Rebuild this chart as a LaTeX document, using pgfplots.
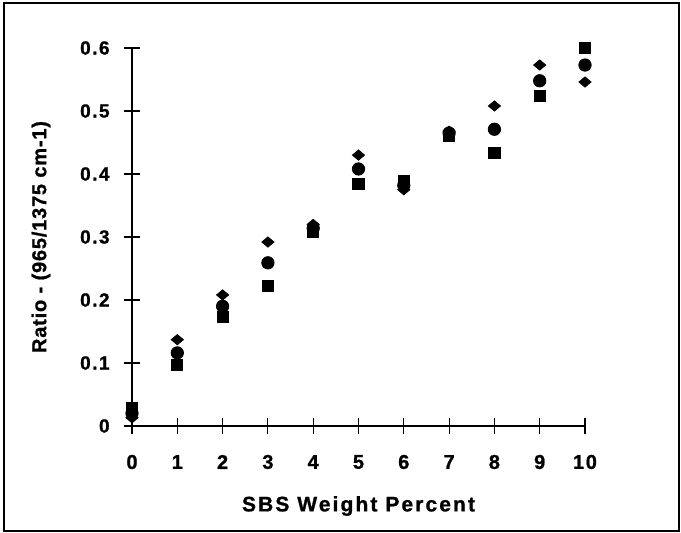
\documentclass[border=0pt]{standalone}
\usepackage{fontspec}
\setmainfont{Liberation Sans}
\newfontfamily\tickfont{Liberation Sans}[LetterSpace=8, FakeBold=1]
\newfontfamily\labfont{Liberation Sans}[LetterSpace=10, FakeBold=1]
\newfontfamily\ylabfont{Liberation Sans}[LetterSpace=4, FakeBold=1]
\usepackage{pgfplots}
\pgfplotsset{compat=1.18}
\begin{document}
\begin{tikzpicture}
\begin{axis}[
  at={(0,0)}, anchor=south west,
  scale only axis,
  width=226.5pt, height=189pt,
  xmin=0, xmax=10, ymin=0, ymax=0.6,
  axis x line=bottom, axis y line=left,
  axis line style={-, line width=0.8pt},
  clip=false,
  xtick={0,1,2,3,4,5,6,7,8,9,10},
  ytick={0,0.1,0.2,0.3,0.4,0.5,0.6},
  yticklabels={0,0.1,0.2,0.3,0.4,0.5,0.6},
  tick align=center,
  major tick length=8pt,
  tick style={line width=0.6pt, black},
  /pgf/number format/assume math mode=true,
  xticklabel style={font=\tickfont\bfseries\fontsize{10}{12}\selectfont, anchor=center, inner sep=0pt, yshift=-14pt},
  yticklabel style={font=\tickfont\bfseries\fontsize{9.5}{12}\selectfont, anchor=east, inner sep=0pt, xshift=-7pt},
  xlabel={SBS Weight Percent},
  ylabel={Ratio - (965/1375 cm-1)},
  xlabel style={font=\labfont\bfseries\fontsize{10.5}{12}\selectfont, at={([yshift=-40pt]axis description cs:0.5,0)}, anchor=center, inner sep=0pt},
  ylabel style={font=\ylabfont\bfseries\fontsize{10}{12}\selectfont, at={([xshift=-45.5pt]axis description cs:0,0.5)}, anchor=center, inner sep=0pt},
]
\addplot[only marks, mark=square*, mark size=2.8pt, black] coordinates {
 (0,0.029) (1,0.097) (2,0.173) (3,0.222) (4,0.308) (5,0.384) (6,0.389) (7,0.461) (8,0.433) (9,0.524) (10,0.600)
};
\addplot[only marks, mark=*, mark size=3.1pt, black] coordinates {
 (0,0.020) (1,0.116) (2,0.190) (3,0.259) (4,0.314) (5,0.408) (6,0.382) (7,0.465) (8,0.471) (9,0.548) (10,0.573)
};
\addplot[only marks, mark=diamond*, mark size=3pt, mark options={xscale=1.35, yscale=0.85}, black] coordinates {
 (0,0.013) (1,0.137) (2,0.208) (3,0.292) (4,0.320) (5,0.430) (6,0.375) (7,0.468) (8,0.508) (9,0.573) (10,0.546)
};
\end{axis}
\draw[line width=0.8pt] (-64pt,-52.5pt) rectangle (273.5pt,211.5pt);
\pgfresetboundingbox
\path (-66pt,-53.5pt) rectangle (274.5pt,213pt);
\end{tikzpicture}
\end{document}
